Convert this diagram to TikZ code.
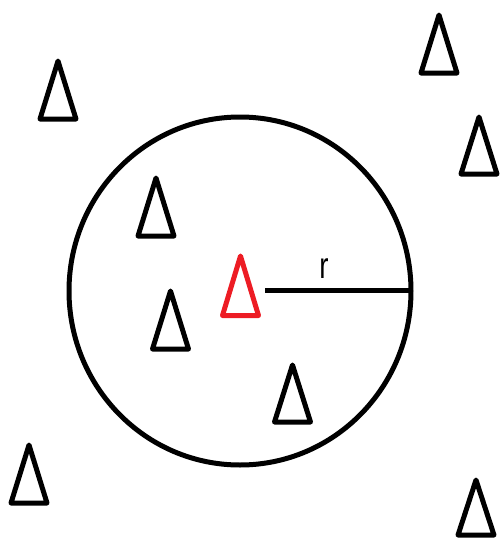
\documentclass[tikz,border=0pt]{standalone}
\usepackage{fontspec}
\setmainfont{Liberation Sans}
\usetikzlibrary{positioning}
\definecolor{paintred}{RGB}{237,28,36}

\begin{document}
\begin{tikzpicture}[x=0.02cm,y=-0.02cm,
    tri/.style={line width=0.1cm,line join=round},
    rim/.style={line width=0.1cm}]
  \useasboundingbox (0,0) rectangle (500,542);
  % the circle and its radius
  \coordinate (ctr) at (240,291);
  \draw[rim] (ctr) ellipse [x radius=171, y radius=174];
  \coordinate (start) at (265,290);
  \coordinate (edge) at (411.5,290);
  \draw[rim] (start) -- (edge);
  \node[xscale=0.75] (rlabel) at (324,269) {\fontsize{21}{25}\selectfont r};
  % the point at the centre
  \draw[tri,paintred] (240.5,256) -- ++(18,59.5) -- ++(-36,0) -- cycle;
  % points inside
  \draw[tri] (156,178) -- ++(18,58) -- ++(-36,0) -- cycle;
  \draw[tri] (170.5,291) -- ++(18,58) -- ++(-36,0) -- cycle;
  \draw[tri] (292.5,365) -- ++(18,57) -- ++(-36,0) -- cycle;
  % points outside
  \draw[tri] (58,61) -- ++(18,58) -- ++(-36,0) -- cycle;
  \draw[tri] (439,15) -- ++(18,58) -- ++(-36,0) -- cycle;
  \draw[tri] (479,117) -- ++(18,57) -- ++(-36,0) -- cycle;
  \draw[tri] (29,445) -- ++(18,58) -- ++(-36,0) -- cycle;
  \draw[tri] (476,480) -- ++(18,55) -- ++(-36,0) -- cycle;
\end{tikzpicture}
\end{document}
